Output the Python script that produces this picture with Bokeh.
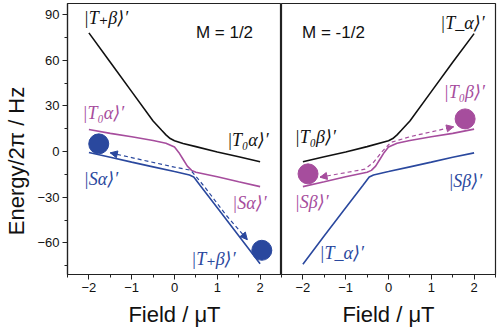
from bokeh.plotting import figure
from bokeh.layouts import row
from bokeh.models import Range1d, FixedTicker, Arrow, NormalHead
from bokeh.core.properties import value
from bokeh.embed import file_html
from bokeh.resources import INLINE

# ---------------- data ----------------
# Left panel, M = 1/2
left_black_x = [-2, -1.5, -1, -0.5, -0.3, -0.2, -0.1, 0, 0.2, 0.5, 1, 1.5, 2]
left_black_y = [78, 58.7, 39.4, 20.1, 14, 11, 8.6, 7.2, 5.3, 3.3, -0.2, -3.4, -6.6]
left_mag_x = [-2, -1.5, -1, -0.5, -0.2, 0, 0.1, 0.2, 0.3, 0.4, 0.5, 1, 1.5, 2]
left_mag_y = [14.5, 12, 9.8, 7.3, 5.5, 3, -0.5, -5, -9.5, -12.3, -13.5, -16.5, -19.8, -23]
left_blue_x = [-2, -1.5, -1, -0.5, 0, 0.2, 0.35, 0.45, 0.6, 1, 1.5, 2]
left_blue_y = [-0.6, -3.7, -6.9, -10, -13.1, -14.3, -15.3, -16.6, -22.2, -36.8, -55.2, -73.6]
left_dash_x = [-1.5, 0.0, 0.38, 0.7, 1.2, 1.7]
left_dash_y = [-0.8, -10.2, -12.2, -23, -41.5, -57.8]
left_dot_x = [-1.77, 2.04]
left_dot_y = [5.1, -64.8]

# Right panel, M = -1/2
right_black_x = [-2, -1.5, -1, -0.5, 0, 0.1, 0.2, 0.3, 0.5, 1, 1.5, 2]
right_black_y = [-6.6, -3.4, -0.2, 3.3, 7.2, 8.6, 11, 14, 20.1, 39.4, 58.7, 77.5]
right_mag_x = [-2, -1.5, -1, -0.5, -0.4, -0.3, -0.2, -0.1, 0, 0.2, 0.5, 1, 1.5, 2]
right_mag_y = [-23, -19.8, -16.5, -13.5, -12.3, -9.5, -5, -0.5, 3, 5.5, 7.3, 9.8, 12, 14.8]
right_blue_x = [-2, -1.5, -1, -0.6, -0.45, -0.35, -0.2, 0, 0.5, 1, 1.5, 2]
right_blue_y = [-74, -55.2, -36.8, -22.2, -16.6, -15.3, -14.3, -13.1, -10, -6.9, -3.7, -0.8]
right_dash_x = [-1.6, -0.55, -0.35, -0.15, 0.05, 0.5, 1.52]
right_dash_y = [-16.8, -11.5, -7, 0, 6.0, 9.8, 16.3]
right_dot_x = [-1.88, 1.79]
right_dot_y = [-14.6, 21.5]

x_ticks = [-2, -1, 0, 1, 2]
x_minor = [-2.5, -1.5, -0.5, 0.5, 1.5, 2.5]
y_ticks = [-60, -30, 0, 30, 60, 90]
y_minor = [-75, -45, -15, 15, 45, 75]

# state labels
left_lab_text = ["|T\u208a\u03b2\u27e9\u2032", "|T\u2080\u03b1\u27e9\u2032", "|T\u2080\u03b1\u27e9\u2032",
                 "|S\u03b1\u27e9\u2032", "|S\u03b1\u27e9\u2032", "|T\u208a\u03b2\u27e9\u2032"]
left_lab_x = [-2.12, 1.23, -2.15, -2.12, 1.35, 0.39]
left_lab_y = [88.0, 7.9, 25.7, -17.7, -33.5, -70.3]
right_lab_text = ["|T_\u03b1\u27e9\u2032", "|T\u2080\u03b2\u27e9\u2032", "|T\u2080\u03b2\u27e9\u2032",
                  "|S\u03b2\u27e9\u2032", "|S\u03b2\u27e9\u2032", "|T_\u03b1\u27e9\u2032"]
right_lab_x = [1.21, 1.29, -2.19, -2.19, 1.4, -1.61]
right_lab_y = [84.4, 39, 9.8, -32.8, -19, -66.6]

BLACK = "#111111"
MAG = "#a64d9d"
BLUE = "#2a489e"
left_lab_color = [BLACK, BLACK, MAG, BLUE, MAG, BLUE]
right_lab_color = [BLACK, MAG, BLACK, MAG, BLUE, BLUE]

SANS = "Liberation Sans"
SERIF = "Liberation Serif, DejaVu Serif"


def make_fig(left):
    kw = dict(frame_width=214, frame_height=271,
              x_range=Range1d(-2.5, 2.5), y_range=Range1d(-80.7, 97.3),
              output_backend="svg", toolbar_location=None,
              min_border_top=3, min_border_bottom=0)
    if left:
        p = figure(min_border_left=67, min_border_right=0, **kw)
    else:
        p = figure(min_border_left=0, min_border_right=3, y_axis_location=None, **kw)
    p.grid.visible = False
    p.outline_line_color = "#222222"
    p.outline_line_width = 1.2
    p.background_fill_color = "white"
    p.border_fill_color = "white"
    p.xaxis.ticker = FixedTicker(ticks=x_ticks, minor_ticks=x_minor)
    p.xaxis.axis_label = "Field / \u03bcT"
    axes = list(p.xaxis)
    if left:
        p.yaxis.ticker = FixedTicker(ticks=y_ticks, minor_ticks=y_minor)
        p.yaxis.axis_label = "Energy/2\u03c0 / Hz" + "\u2002" * 4
        axes += list(p.yaxis)
    for ax in axes:
        ax.axis_line_color = "#222222"
        ax.axis_line_width = 1.2
        ax.major_tick_line_color = "#222222"
        ax.minor_tick_line_color = "#222222"
        ax.major_tick_in = 0
        ax.major_tick_out = 5
        ax.minor_tick_in = 0
        ax.minor_tick_out = 3
        ax.major_label_text_font = SANS
        ax.major_label_text_font_size = "13px"
        ax.major_label_text_color = "#111111"
        ax.major_label_standoff = 3
        ax.axis_label_text_font = SANS
        ax.axis_label_text_font_size = "22px"
        ax.axis_label_text_font_style = "normal"
        ax.axis_label_text_color = "#111111"
        ax.axis_label_standoff = 5
    for ax in p.xaxis:
        ax.axis_label_standoff = 7
    return p


def add_arrow(p, xs, ys, color, at_end):
    if at_end:
        x0, y0, x1, y1 = xs[-2], ys[-2], xs[-1], ys[-1]
    else:
        x0, y0, x1, y1 = xs[1], ys[1], xs[0], ys[0]
    p.add_layout(Arrow(end=NormalHead(size=7, fill_color=color, line_color=color),
                       x_start=x0, y_start=y0, x_end=x1, y_end=y1,
                       line_alpha=0))


# ---------------- left panel ----------------
pl = make_fig(True)
pl.line(left_black_x, left_black_y, line_color=BLACK, line_width=1.6)
pl.line(left_mag_x, left_mag_y, line_color=MAG, line_width=1.6)
pl.line(left_blue_x, left_blue_y, line_color=BLUE, line_width=1.6)
pl.line(left_dash_x, left_dash_y, line_color=BLUE, line_width=1.2, line_dash="4 3")
add_arrow(pl, left_dash_x, left_dash_y, BLUE, False)
add_arrow(pl, left_dash_x, left_dash_y, BLUE, True)
pl.scatter(left_dot_x, left_dot_y, size=20, fill_color=BLUE, line_color=BLUE)
pl.text(x=left_lab_x, y=left_lab_y, text=left_lab_text, text_color=left_lab_color,
        text_font=value(SERIF), text_font_style="italic", text_font_size="18px",
        text_align="left", text_baseline="middle")
pl.text(x=[0.5], y=[78], text=["M = 1/2"], text_color=BLACK, text_font=value(SANS),
        text_font_size="17px", text_align="left", text_baseline="middle")

# ---------------- right panel ----------------
pr = make_fig(False)
pr.line(right_black_x, right_black_y, line_color=BLACK, line_width=1.6)
pr.line(right_mag_x, right_mag_y, line_color=MAG, line_width=1.6)
pr.line(right_blue_x, right_blue_y, line_color=BLUE, line_width=1.6)
pr.line(right_dash_x, right_dash_y, line_color=MAG, line_width=1.2, line_dash="4 3")
add_arrow(pr, right_dash_x, right_dash_y, MAG, False)
add_arrow(pr, right_dash_x, right_dash_y, MAG, True)
pr.scatter(right_dot_x, right_dot_y, size=20, fill_color=MAG, line_color=MAG)
pr.text(x=right_lab_x, y=right_lab_y, text=right_lab_text, text_color=right_lab_color,
        text_font=value(SERIF), text_font_style="italic", text_font_size="18px",
        text_align="left", text_baseline="middle")
pr.text(x=[-2.02], y=[78], text=["M = -1/2"], text_color=BLACK, text_font=value(SANS),
        text_font_size="17px", text_align="left", text_baseline="middle")

layout = row(pl, pr, spacing=0)
open("out.html", "w").write(file_html(layout, INLINE))
